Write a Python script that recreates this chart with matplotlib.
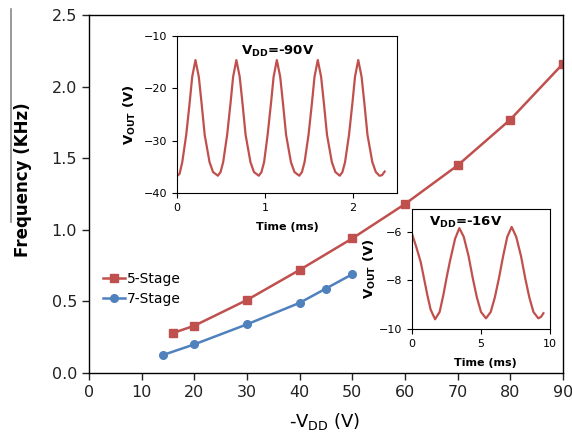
import matplotlib

matplotlib.use("Agg")
import matplotlib.pyplot as plt
from matplotlib.lines import Line2D

plt.rcParams["font.family"] = ["DejaVu Sans"]
plt.rcParams["mathtext.default"] = "regular"

red = "#C0504D"
blue = "#4F81BD"

# main chart: frequency vs -VDD
vdd_5 = [16, 20, 30, 40, 50, 60, 70, 80, 90]
freq_5 = [0.28, 0.33, 0.51, 0.72, 0.94, 1.18, 1.45, 1.77, 2.16]
vdd_7 = [14, 20, 30, 40, 45, 50]
freq_7 = [0.125, 0.20, 0.34, 0.49, 0.59, 0.69]

# inset 1: VDD = -90 V waveform
t_90 = [0.0, 0.03, 0.06, 0.105, 0.145, 0.173, 0.21, 0.248, 0.278, 0.315, 0.37, 0.41,
        0.465, 0.495, 0.525, 0.57, 0.61, 0.638, 0.675, 0.713, 0.743, 0.78, 0.835, 0.875,
        0.93, 0.96, 0.99, 1.03, 1.07, 1.098, 1.135, 1.173, 1.203, 1.24, 1.295, 1.335,
        1.39, 1.42, 1.45, 1.495, 1.535, 1.563, 1.6, 1.638, 1.668, 1.705, 1.76, 1.8,
        1.85, 1.88, 1.91, 1.955, 1.995, 2.023, 2.06, 2.098, 2.128, 2.165, 2.22, 2.26,
        2.3, 2.33, 2.36]
v_90 = [-36.8, -36.3, -34.1, -28.9, -22.6, -17.8, -14.6, -17.8, -22.6, -28.9, -34.1, -36.0,
        -36.7, -36.0, -34.1, -28.9, -22.6, -17.8, -14.6, -17.8, -22.6, -28.9, -34.1, -36.0,
        -36.7, -36.0, -34.1, -28.9, -22.6, -17.8, -14.6, -17.8, -22.6, -28.9, -34.1, -36.0,
        -36.7, -36.0, -34.1, -28.9, -22.6, -17.8, -14.6, -17.8, -22.6, -28.9, -34.1, -36.0,
        -36.7, -36.0, -34.1, -28.9, -22.6, -17.8, -14.6, -17.8, -22.6, -28.9, -34.1, -36.0,
        -36.7, -36.6, -35.9]

# inset 2: VDD = -16 V waveform
t_16 = [0.0, 0.3, 0.63, 0.9, 1.11, 1.35, 1.67, 2.0, 2.27, 2.5, 2.75, 3.12, 3.43,
        3.75, 4.1, 4.4, 4.7, 5.0, 5.36, 5.7, 6.0, 6.3, 6.6, 6.9, 7.22,
        7.55, 7.9, 8.2, 8.5, 8.8, 9.15, 9.35, 9.52]
v_16 = [-6.08, -6.6, -7.24, -8.0, -8.6, -9.2, -9.6, -9.3, -8.6, -7.9, -7.2, -6.28, -5.84,
        -6.2, -7.0, -7.9, -8.7, -9.3, -9.56, -9.3, -8.7, -7.9, -7.0, -6.2, -5.79,
        -6.2, -7.0, -7.9, -8.7, -9.3, -9.56, -9.5, -9.35]

fig = plt.figure(figsize=(5.72, 4.38), dpi=100)
ax = fig.add_axes([0.1556, 0.1484, 0.8287, 0.8174])
ax.plot(vdd_5, freq_5, color=red, lw=1.8, marker="s", ms=6, label="5-Stage")
ax.plot(vdd_7, freq_7, color=blue, lw=1.8, marker="o", ms=5.5, label="7-Stage")
ax.set_xlim(0, 90)
ax.set_ylim(0, 2.5)
ax.set_xticks(range(0, 91, 10))
ax.set_yticks([0, 0.5, 1.0, 1.5, 2.0, 2.5])
ax.set_yticklabels(["0.0", "0.5", "1.0", "1.5", "2.0", "2.5"])
ax.tick_params(labelsize=11.5, length=5, width=1, colors="#222222", labelcolor="#222222")
for sp in ax.spines.values():
    sp.set_linewidth(1.0)
ax.set_xlabel(r"-V$_{DD}$ (V)", fontsize=13)
ax.xaxis.set_label_coords(0.498, -0.105)
ax.set_ylabel("Frequency (KHz)", fontsize=12, fontweight="bold")
ax.yaxis.set_label_coords(-0.12, 0.54)
ax.legend(loc="upper left", bbox_to_anchor=(0.03, 0.282), frameon=False,
          fontsize=10, handlelength=1.6, handletextpad=0.1, borderpad=0,
          borderaxespad=0, labelspacing=0.45)

# inset 1
a1 = fig.add_axes([0.3094, 0.5594, 0.3846, 0.3584])
a1.plot(t_90, v_90, color=red, lw=1.6)
a1.set_xlim(0, 2.5)
a1.set_ylim(-40, -10)
a1.set_xticks([0, 1, 2])
a1.set_yticks([-40, -30, -20, -10])
a1.tick_params(labelsize=8, length=3.5)
a1.set_xlabel("Time (ms)", fontsize=8, fontweight="bold")
a1.xaxis.set_label_coords(0.5, -0.185)
a1.set_ylabel(r"$\mathbf{V_{OUT}}$ (V)", fontsize=9.5, fontweight="bold")
a1.yaxis.set_label_coords(-0.175, 0.5)
a1.text(0.29, 0.9, r"$\mathbf{V_{DD}}$=-90V", transform=a1.transAxes,
        fontsize=9.5, fontweight="bold", va="center")

# inset 2
a2 = fig.add_axes([0.7203, 0.2489, 0.2413, 0.274])
a2.plot(t_16, v_16, color=red, lw=1.6)
a2.set_xlim(0, 10)
a2.set_ylim(-10, -5.05)
a2.set_xticks([0, 5, 10])
a2.set_yticks([-10, -8, -6])
a2.tick_params(labelsize=8, length=3.5)
a2.set_xlabel("Time (ms)", fontsize=8, fontweight="bold")
a2.xaxis.set_label_coords(0.53, -0.245)
a2.set_ylabel(r"$\mathbf{V_{OUT}}$ (V)", fontsize=9.5, fontweight="bold")
a2.yaxis.set_label_coords(-0.25, 0.5)
a2.text(0.12, 0.89, r"$\mathbf{V_{DD}}$=-16V", transform=a2.transAxes,
        fontsize=9.5, fontweight="bold", va="center")

# stray grey rule at the left edge of the original image
fig.add_artist(Line2D([0.0185, 0.0185], [0.979, 0.493], color="#888888", lw=1.2))

fig.savefig("out.png", dpi=100)
